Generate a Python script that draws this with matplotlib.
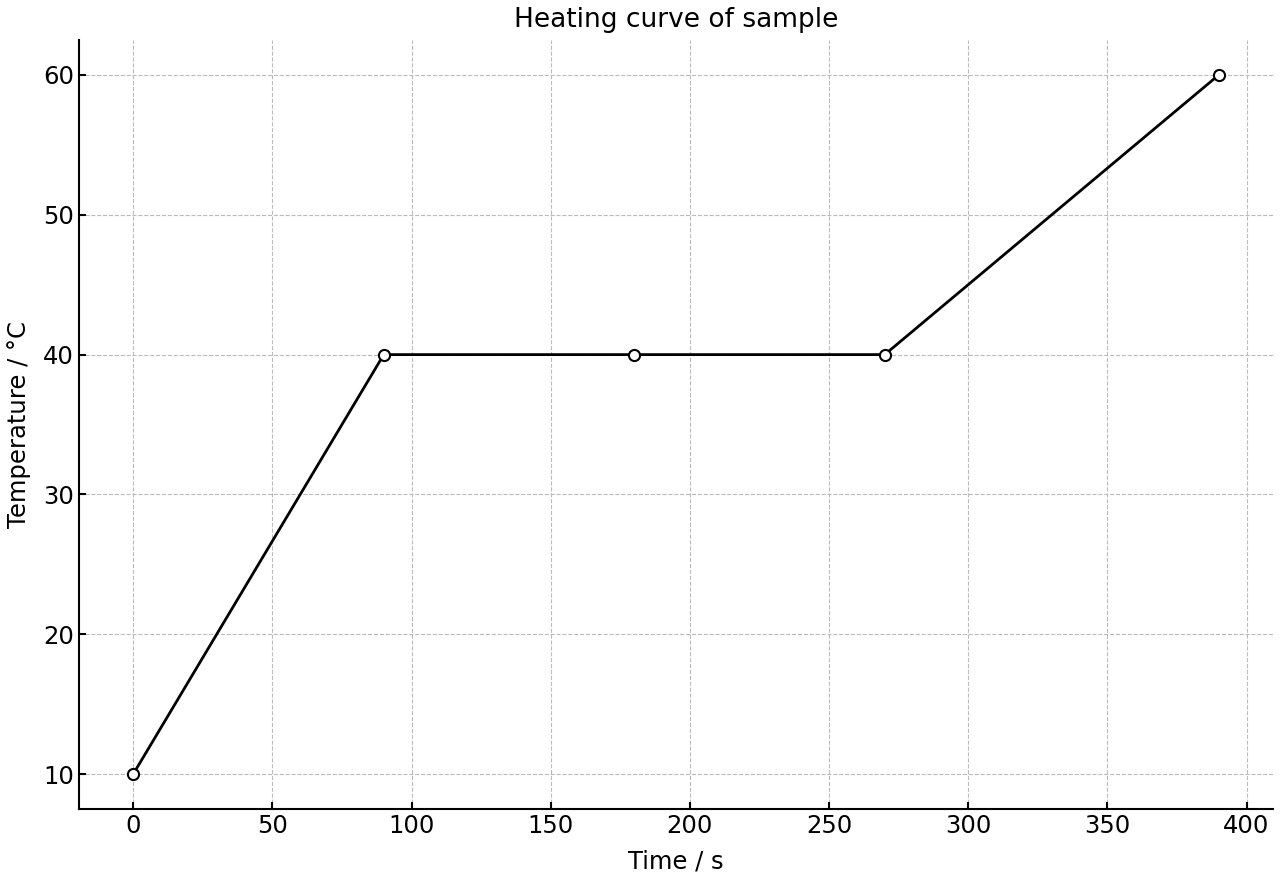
import matplotlib
matplotlib.use("Agg")
import matplotlib.pyplot as plt

time_s = [0, 90, 180, 270, 390]
temp_c = [10, 40, 40, 40, 60]

fig = plt.figure(figsize=(12.8, 8.8), dpi=100)
ax = fig.add_axes([0.0617, 0.0807, 0.9328, 0.8738])

ax.plot(time_s, temp_c, color='black', linewidth=2, marker='o', markersize=8,
        markerfacecolor='white', markeredgecolor='black', markeredgewidth=1.5)

ax.set_title('Heating curve of sample', fontsize=19, pad=9.5)
ax.set_xlabel('Time / s', fontsize=17.5, labelpad=8.5)
ax.set_ylabel('Temperature / °C', fontsize=17.5, labelpad=8.5)

ax.set_xticks([0, 50, 100, 150, 200, 250, 300, 350, 400])
ax.set_yticks([10, 20, 30, 40, 50, 60])
ax.tick_params(direction='in', labelsize=17.5, width=1.5, length=5)

ax.grid(True, linestyle='--', color='#bbbbbb', linewidth=0.8)
ax.spines['top'].set_visible(False)
ax.spines['right'].set_visible(False)
ax.spines['left'].set_linewidth(1.5)
ax.spines['bottom'].set_linewidth(1.5)

fig.savefig('out.png', dpi=100)
